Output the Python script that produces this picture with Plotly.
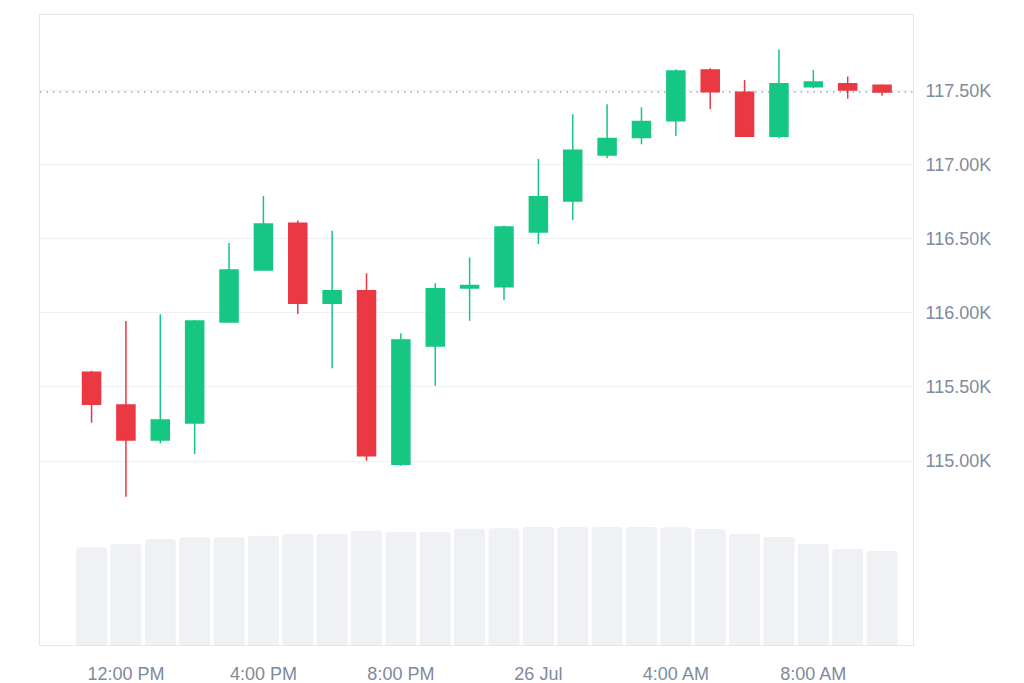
import plotly.graph_objects as go

times = ["2025-07-25 11:00", "2025-07-25 12:00", "2025-07-25 13:00", "2025-07-25 14:00",
         "2025-07-25 15:00", "2025-07-25 16:00", "2025-07-25 17:00", "2025-07-25 18:00",
         "2025-07-25 19:00", "2025-07-25 20:00", "2025-07-25 21:00", "2025-07-25 22:00",
         "2025-07-25 23:00", "2025-07-26 00:00", "2025-07-26 01:00", "2025-07-26 02:00",
         "2025-07-26 03:00", "2025-07-26 04:00", "2025-07-26 05:00", "2025-07-26 06:00",
         "2025-07-26 07:00", "2025-07-26 08:00", "2025-07-26 09:00", "2025-07-26 10:00"]

opens = [115599, 115378, 115142, 115257, 115939, 116291, 116606, 116066,
         116151, 114978, 115777, 116168, 116178, 116547, 116757, 117068,
         117185, 117299, 117642, 117491, 117194, 117529, 117549, 117538]
highs = [115610, 115946, 115991, 115953, 116473, 116791, 116624, 116556,
         116268, 115863, 116201, 116374, 116591, 117041, 117343, 117410,
         117390, 117645, 117653, 117574, 117782, 117642, 117597, 117545]
lows = [115259, 114759, 115120, 115047, 115935, 116285, 115993, 115626,
        115002, 114968, 115509, 115948, 116088, 116466, 116628, 117045,
        117140, 117196, 117378, 117194, 117180, 117518, 117448, 117468]
closes = [115383, 115142, 115277, 115946, 116291, 116601, 116066, 116151,
          115036, 115818, 116164, 116185, 116581, 116786, 117099, 117178,
          117293, 117635, 117495, 117194, 117549, 117561, 117507, 117493]

volumes = [9.77, 10.1, 10.6, 10.77, 10.77, 10.93, 11.13, 11.13, 11.43, 11.3, 11.3, 11.63,
           11.67, 11.8, 11.8, 11.8, 11.8, 11.77, 11.6, 11.13, 10.8, 10.1, 9.6, 9.4]

price_ticks = [115000, 115500, 116000, 116500, 117000, 117500]
price_labels = ["115.00K", "115.50K", "116.00K", "116.50K", "117.00K", "117.50K"]
time_ticks = ["2025-07-25 12:00", "2025-07-25 16:00", "2025-07-25 20:00",
              "2025-07-26 00:00", "2025-07-26 04:00", "2025-07-26 08:00"]
time_labels = ["12:00 PM", "4:00 PM", "8:00 PM", "26 Jul", "4:00 AM", "8:00 AM"]

GREEN = "#16c784"
RED = "#ea3943"
GRID = "#eff1f4"
TXT = "#808a9d"

fig = go.Figure()
fig.add_trace(go.Bar(x=times, y=volumes, yaxis="y2", marker=dict(color="#eff1f4", line=dict(width=0)),
                     hoverinfo="skip", showlegend=False))
fig.add_trace(go.Candlestick(x=times, open=opens, high=highs, low=lows, close=closes,
                             increasing=dict(line=dict(color=GREEN, width=1.5), fillcolor=GREEN),
                             decreasing=dict(line=dict(color=RED, width=1.5), fillcolor=RED),
                             whiskerwidth=0, showlegend=False))

fig.add_shape(type="line", xref="paper", x0=0, x1=1, yref="y", y0=closes[-1], y1=closes[-1],
              line=dict(color="#a3a8b0", width=1.5, dash="1.5px,5px"), layer="below")

fig.update_layout(
    width=1024, height=683,
    margin=dict(l=40, r=111, t=15, b=38),
    paper_bgcolor="white", plot_bgcolor="white",
    font=dict(family="Liberation Sans, Arial, sans-serif", size=18, color=TXT),
    bargap=0.1, barcornerradius=3,
    boxgap=0.476, boxgroupgap=0,
    showlegend=False,
    xaxis=dict(type="date", range=["2025-07-25 09:30", "2025-07-26 10:54"],
               rangeslider=dict(visible=False), showgrid=False, zeroline=False,
               tickvals=time_ticks, ticktext=time_labels, ticks="",
               ticklabelstandoff=12, automargin=False,
               showline=True, linecolor="#e6e8ec", linewidth=1, mirror=True),
    yaxis=dict(side="right", range=[113757, 118013], tickvals=price_ticks, ticktext=price_labels,
               showgrid=True, gridcolor=GRID, gridwidth=1, zeroline=False,
               ticklabelstandoff=8, automargin=False,
               showline=True, linecolor="#e6e8ec", linewidth=1, mirror=True),
    yaxis2=dict(overlaying="y", range=[0, 63], visible=False, showgrid=False, automargin=False),
)

fig.write_html("out.html",
               config={"displayModeBar": False},
               post_script=("document.documentElement.style.margin='0';"
                            "document.body.style.margin='0';"
                            "document.body.style.overflow='hidden';"
                            "document.documentElement.style.overflow='hidden';"))
